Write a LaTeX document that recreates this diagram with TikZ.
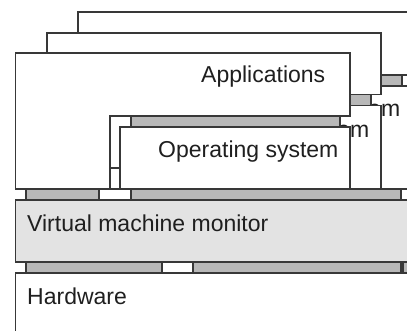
\documentclass[tikz,border=0pt]{standalone}
\usepackage{fontspec}
\setmainfont{Liberation Sans}
\begin{document}
\begin{tikzpicture}[x=1pt,y=-1pt,
  edge/.style={draw=black!78,line width=1.2pt,line join=miter},
  boxw/.style={edge,fill=white},
  bar/.style={edge,fill=black!28},
  vmm/.style={edge,fill=black!11},
  lbl/.style={anchor=base west,inner sep=0pt,font=\fontsize{23}{27}\selectfont,text=black!88}]
\useasboundingbox (0,0) rectangle (407,331);
\clip (0,0) rectangle (407,331);
% ---- third (back) virtual machine
\draw[boxw] (78,12) -- (414,12) -- (414,75) -- (172,75) -- (172,189) -- (78,189) -- cycle;
\draw[bar] (193,75) rectangle (402,86);
\draw[boxw] (182,86) rectangle (414,189);
\node[lbl] (os3) at (220,117) {Operating system};
% ---- second virtual machine
\draw[boxw] (47,33) -- (381,33) -- (381,94.5) -- (141,94.5) -- (141,189) -- (47,189) -- cycle;
\draw[bar] (162,94.5) rectangle (371,105.5);
\draw[boxw] (151,105.5) rectangle (381,189);
\node[lbl] (os2) at (189,137.5) {Operating system};
% ---- front virtual machine
\draw[boxw] (15.7,53) -- (350,53) -- (350,116) -- (110,116) -- (110,189) -- (15.7,189) -- cycle;
\draw[bar] (131,116) rectangle (340,127);
\draw[boxw] (120,127) rectangle (350,189);
\draw[edge] (110,168) -- (120,168);
\node[lbl] (apps) at (201,83) {Applications};
\node[lbl] (os1) at (158,158) {Operating system};
% ---- interfaces to the monitor
\draw[bar] (26,189) rectangle (99,200);
\draw[bar] (131,189) rectangle (401,200);
% ---- virtual machine monitor
\draw[vmm] (15.7,200) rectangle (420,262);
\node[lbl] (vmmtext) at (27,232) {Virtual machine monitor};
% ---- interfaces to the hardware
\draw[bar] (26,262) rectangle (162,273);
\draw[bar] (193,262) rectangle (401,273);
\draw[bar] (403,262) rectangle (420,273);
% ---- hardware
\draw[boxw] (15.7,273) rectangle (420,345);
\node[lbl] (hw) at (27,304) {Hardware};
\end{tikzpicture}
\end{document}
